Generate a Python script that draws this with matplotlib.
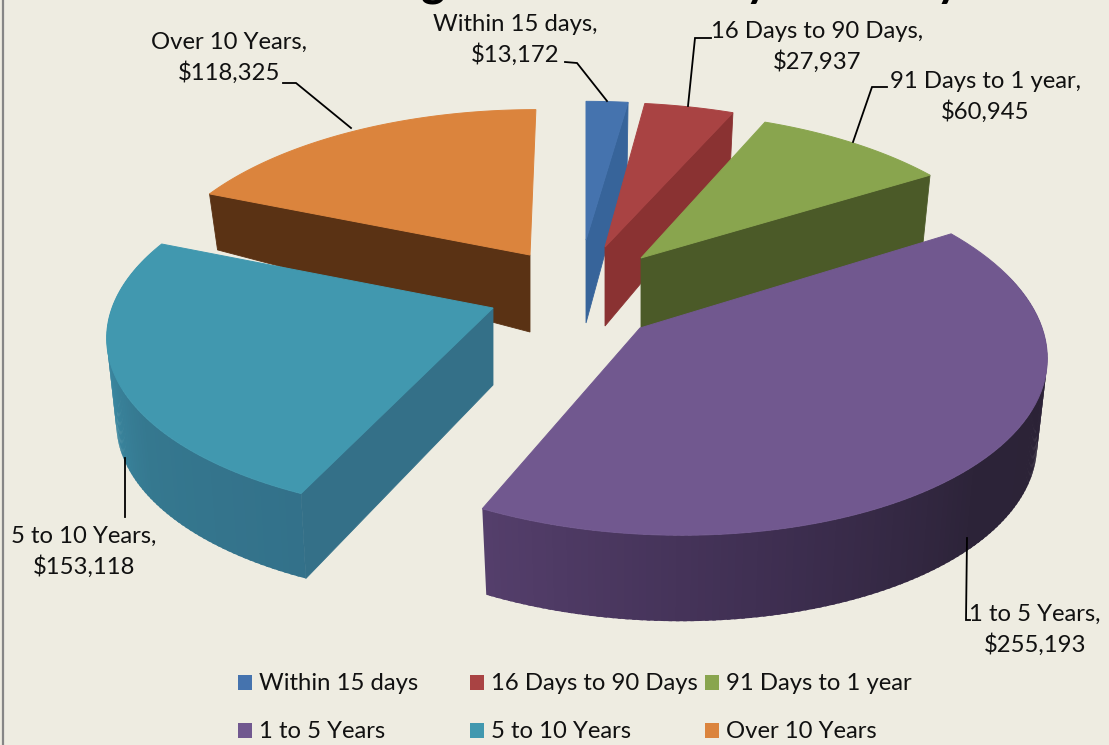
#!/usr/bin/env python3
import numpy as np
import matplotlib
matplotlib.use("Agg")
import matplotlib.pyplot as plt
from matplotlib.colors import to_rgb
from matplotlib.patches import Polygon, Rectangle

categories = ["Within 15 days", "16 Days to 90 Days", "91 Days to 1 year",
              "1 to 5 Years", "5 to 10 Years", "Over 10 Years"]
values = [13172, 27937, 60945, 255193, 153118, 118325]
title = "Outstanding Investments by Maturity"

top_colors = ["#4573ae", "#a94343", "#89a54e", "#71588f", "#4198af", "#db843d"]
face_colors = ["#37649a", "#8a3232", "#4b5a28", None, "#347088", "#5a3214"]

# pixel geometry of each exploded slice: apex, radii, perspective, depth
apex_x = [586, 605, 641, 640, 493, 530]
apex_y = [240, 247, 258, 328, 308, 255]
rad_x = [381, 383, 376, 378, 381, 374]
rad_y = [165, 172, 174, 182, 178, 173]
persp_y = [0.19, 0.19, 0.19, 0.12, 0.14, 0.19]
persp_x = [0, 0, 0, -0.06, 0, 0]
shear_x = [0, -3, -5, -14, 10, 7]
depth_apex = [83, 79, 78, 80, 77, 77]
depth_rim = [70, 65, 70, 86, 85, 56]
draw_order = [0, 1, 2, 5, 4, 3]

# outer wall shading: (angle in degrees, colour)
rim_stops = {
    0: [(0, "#2f5786"), (8, "#2f5786")],
    1: [(8, "#7a2c2c"), (24, "#7a2c2c")],
    2: [(24, "#46552a"), (59, "#46552a")],
    3: [(58, "#2b2235"), (130, "#2c2338"), (165, "#3f2f52"), (205, "#553f6c")],
    4: [(204, "#33718a"), (235, "#35788f"), (262, "#3c8ca6"), (293, "#3f93ab")],
    5: [(292, "#5a3214"), (360, "#5a3214")],
}

# label text, text centre, leader line points
labels = [
    ("Within 15 days,\n$13,172", 515, 40, [(565, 62), (577, 63), (607, 101)]),
    ("16 Days to 90 Days,\n$27,937", 817, 47, [(711, 38), (695, 38), (688, 106)]),
    ("91 Days to 1 year,\n$60,945", 985, 97, [(887, 87), (872, 87), (853, 142)]),
    ("1 to 5 Years,\n$255,193", 1035, 630, [(970, 620), (966, 620), (967, 538)]),
    ("5 to 10 Years,\n$153,118", 84, 552, [(125, 517), (125, 458)]),
    ("Over 10 Years,\n$118,325", 229, 58, [(283, 83), (296, 83), (351, 128)]),
]
legend_x = [238, 470, 705, 238, 470, 705]
legend_y = [684, 684, 684, 732, 732, 732]

plt.rcParams["font.family"] = ["Lato", "DejaVu Sans"]
BG = "#eeece1"

fig = plt.figure(figsize=(11.09, 7.45), dpi=100, facecolor=BG)
ax = fig.add_axes([0, 0, 1, 1])
ax.set_xlim(0, 1109)
ax.set_ylim(745, 0)
ax.axis("off")

sweep = 360 * np.array(values) / sum(values)
ends = np.cumsum(sweep)
starts = ends - sweep


def top_pt(i, r, deg):
    t = np.radians(deg)
    x, y = r * np.sin(t), r * np.cos(t)
    w = 1 + persp_y[i] * y + persp_x[i] * x
    return apex_x[i] + (rad_x[i] * x + shear_x[i] * y) / w, apex_y[i] - rad_y[i] * y / w


def bot_pt(i, r, deg):
    sx, sy = top_pt(i, r, deg)
    sx = apex_x[i] + (sx - apex_x[i]) * 0.975
    return sx, sy + depth_apex[i] + (depth_rim[i] - depth_apex[i]) * r


def shade(i, deg):
    st = rim_stops[i]
    xs = [a for a, _ in st]
    rgb = [to_rgb(c) for _, c in st]
    return tuple(np.interp(deg, xs, [c[k] for c in rgb]) for k in range(3))


for i in draw_order:
    a0, a1 = starts[i], ends[i]
    # outer wall, in thin strips so the shading can change along it
    grid = np.linspace(a0, a1, int(sweep[i]) + 2)
    step = grid[1] - grid[0]
    for d0 in grid[:-1][::-1]:
        if np.cos(np.radians(d0)) > 0.3:
            continue  # back of the slice, hidden anyway
        d1 = min(d0 + step * 1.5, a1)
        quad = [top_pt(i, 1, d0), top_pt(i, 1, d1), bot_pt(i, 1, d1), bot_pt(i, 1, d0)]
        ax.add_patch(Polygon(quad, closed=True, facecolor=shade(i, d0 + step / 2),
                             edgecolor="none"))
    # cut face that looks to the viewer
    if face_colors[i]:
        cut = a1 if i < 3 else a0
        quad = [top_pt(i, 0, cut), top_pt(i, 1, cut), bot_pt(i, 1, cut), bot_pt(i, 0, cut)]
        ax.add_patch(Polygon(quad, closed=True, facecolor=face_colors[i],
                             edgecolor=face_colors[i], lw=0.6))
    # top of the slice
    arc = [top_pt(i, 1, d) for d in np.linspace(a0, a1, 80)]
    ax.add_patch(Polygon([top_pt(i, 0, a0)] + arc, closed=True,
                         facecolor=top_colors[i], edgecolor=top_colors[i], lw=0.7))

for text, tx, ty, line in labels:
    ax.text(tx, ty, text, ha="center", va="center", ma="center", fontsize=17.2,
            color="#111111", linespacing=1.42)
    ax.plot([p[0] for p in line], [p[1] for p in line], color="black", lw=1.3,
            solid_joinstyle="miter")

for name, col, lx, ly in zip(categories, top_colors, legend_x, legend_y):
    ax.add_patch(Rectangle((lx, ly - 9), 14, 15, facecolor=col, edgecolor="none"))
    ax.text(lx + 21, ly, name, ha="left", va="center", fontsize=17.2, color="#111111")

# title runs off the top of the picture, only the descenders show
ax.text(576, -4, title, ha="center", va="baseline", fontsize=33, fontweight="bold",
        color="black")
ax.plot([3, 3], [0, 745], color="#868686", lw=1.6)

fig.savefig("out.png", dpi=100, facecolor=BG)
plt.close(fig)
